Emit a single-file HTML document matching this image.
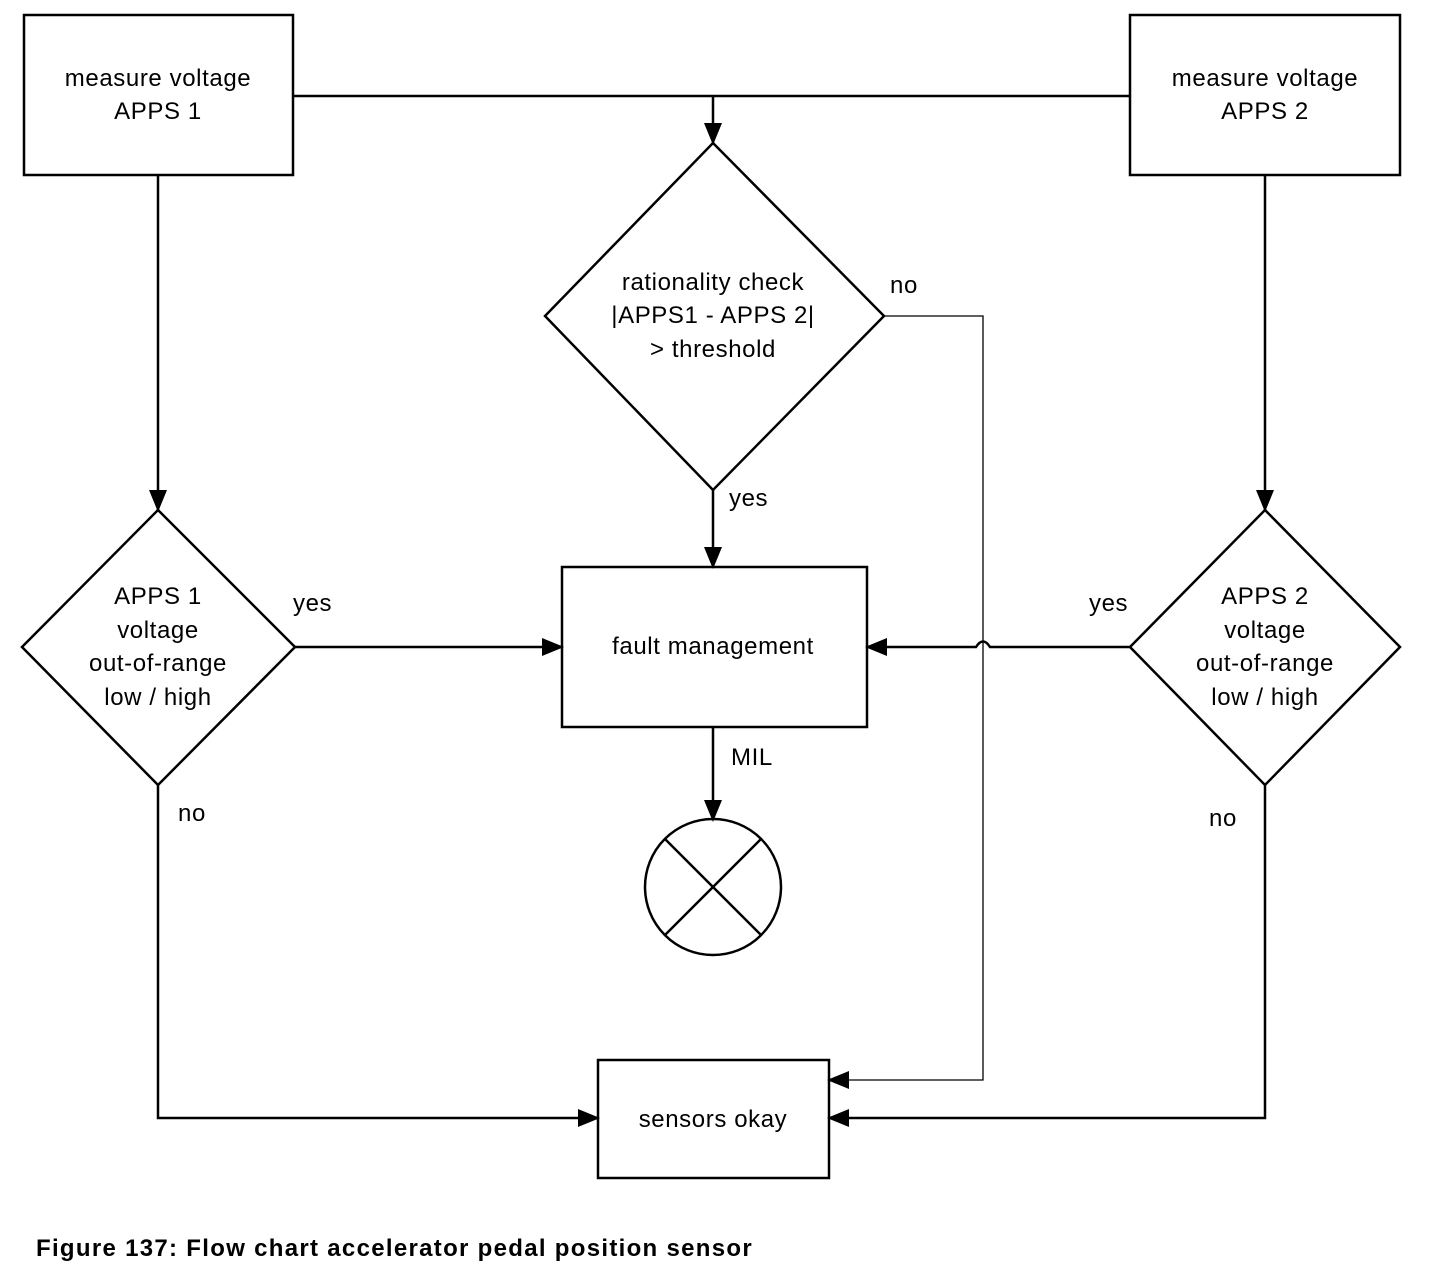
<!DOCTYPE html>
<html><head><meta charset="utf-8"><style>
html,body{margin:0;padding:0;background:#fff;}
svg{display:block}
text{font-family:"Liberation Sans",Arial,sans-serif;font-size:24px;letter-spacing:0.6px;fill:#000;}
</style></head><body>
<svg width="1440" height="1278" viewBox="0 0 1440 1278" xmlns="http://www.w3.org/2000/svg">
<defs>
<marker id="b" markerWidth="22" markerHeight="18" refX="20" refY="9" orient="auto" markerUnits="userSpaceOnUse" viewBox="0 0 22 18">
<path d="M0,0 L22,9 L0,18 Z" fill="#000"/></marker>
</defs>
<g fill="none" stroke="#000" stroke-width="2.5">
<rect x="24" y="15" width="269" height="160"/>
<rect x="1130" y="15" width="270" height="160"/>
<polygon points="713,143 884,316 713,490 545,316"/>
<rect x="562" y="567" width="305" height="160"/>
<polygon points="158,510 295,647 158,785 22,647"/>
<polygon points="1265,510 1400,647 1265,785 1130,647"/>
<rect x="598" y="1060" width="231" height="118"/>
<circle cx="713" cy="887" r="68"/>
<line x1="665" y1="839" x2="761" y2="935"/>
<line x1="761" y1="839" x2="665" y2="935"/>
<polyline points="293,96 1130,96"/>
<line x1="713" y1="96" x2="713" y2="143" marker-end="url(#b)"/>
<line x1="713" y1="490" x2="713" y2="567" marker-end="url(#b)"/>
<line x1="713" y1="727" x2="713" y2="820" marker-end="url(#b)"/>
<line x1="158" y1="175" x2="158" y2="510" marker-end="url(#b)"/>
<line x1="1265" y1="175" x2="1265" y2="510" marker-end="url(#b)"/>
<line x1="295" y1="647" x2="562" y2="647" marker-end="url(#b)"/>
<path d="M1130,647 L990,647 Q983,636 976,647 L867,647" marker-end="url(#b)"/>
<polyline points="158,785 158,1118 598,1118" marker-end="url(#b)"/>
<polyline points="1265,785 1265,1118 829,1118" marker-end="url(#b)"/>
</g>
<polyline points="884,316 983,316 983,1080 829,1080" fill="none" stroke="#000" stroke-width="1.3" marker-end="url(#b)"/>
<g text-anchor="middle">
<text x="158" y="86">measure voltage</text>
<text x="158" y="119">APPS 1</text>
<text x="1265" y="86">measure voltage</text>
<text x="1265" y="119">APPS 2</text>
<text x="713" y="290">rationality check</text>
<text x="713" y="323">|APPS1 - APPS 2|</text>
<text x="713" y="357">&gt; threshold</text>
<text x="713" y="654">fault management</text>
<text x="158" y="604">APPS 1</text>
<text x="158" y="638">voltage</text>
<text x="158" y="671">out-of-range</text>
<text x="158" y="705">low / high</text>
<text x="1265" y="604">APPS 2</text>
<text x="1265" y="638">voltage</text>
<text x="1265" y="671">out-of-range</text>
<text x="1265" y="705">low / high</text>
<text x="713" y="1127">sensors okay</text>
</g>
<text x="890" y="293">no</text>
<text x="729" y="506">yes</text>
<text x="731" y="765">MIL</text>
<text x="293" y="611">yes</text>
<text x="1089" y="611">yes</text>
<text x="178" y="821">no</text>
<text x="1209" y="826">no</text>
<text x="36" y="1256" style="font-weight:bold;font-size:24px;letter-spacing:1.3px">Figure 137: Flow chart accelerator pedal position sensor</text>
</svg>
</body></html>
